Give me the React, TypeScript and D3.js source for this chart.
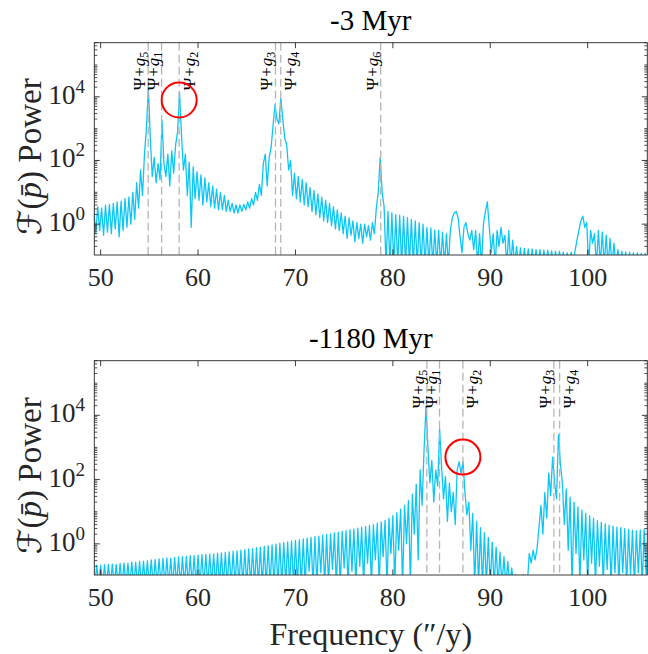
import React from 'react';
import * as d3 from 'd3';

const W = 648;
const H = 654;

// ---- axis settings ----
const xDomain = [49.35, 106.12];
const yLogDomain = [-0.97, 5.7];
const xTicks = [50, 60, 70, 80, 90, 100];
const yTickExps = [0, 2, 4];

// ---- panel titles ----
const topTitle = '-3 Myr';
const bottomTitle = '-1180 Myr';

// ---- spectrum, -3 Myr (log10 power on a uniform frequency grid) ----
const topFreqStart = 49.3;
const topFreqStep = 0.2;
const topLogPower = [
  0.45, -0.3, 0.55, -0.2, 0.5, -0.35, 0.6, -0.25, 0.62, -0.3,
  0.65, -0.15, 0.7, -0.4, 0.72, -0.2, 0.8, -0.1, 0.85, 0.0,
  1.0, 0.15, 1.3, 0.5, 1.7, 0.9, 2.2, 3.0, 4.3, 2.7,
  1.5, 2.1, 1.3, 1.9, 1.4, 3.25, 1.9, 1.5, 2.2, 1.2,
  2.3, 1.6, 2.5, 2.9, 4.15, 2.8, 1.7, 2.2, 0.9, 1.95,
  -0.1, 1.8, 0.8, 1.65, 0.75, 1.55, 0.6, 1.45, 0.7, 1.3,
  0.55, 1.2, 0.5, 1.1, 0.45, 1.0, 0.45, 0.9, 0.4, 0.75,
  0.4, 0.65, 0.35, 0.6, 0.35, 0.6, 0.4, 0.62, 0.45, 0.7,
  0.5, 0.8, 0.6, 1.0, 0.75, 1.25, 0.9, 1.9, 2.2, 1.2,
  2.1, 2.4, 3.1, 3.75, 3.3, 3.15, 3.95, 3.3, 2.7, 2.5,
  1.7, 2.0, 0.9, 1.6, 0.8, 1.5, 0.7, 1.4, 0.6, 1.3,
  0.55, 1.15, 0.4, 1.05, 0.3, 0.95, 0.2, 0.85, 0.1, 0.75,
  0.05, 0.65, -0.05, 0.55, -0.15, 0.45, -0.2, 0.35, -0.3, 0.25,
  -0.45, 0.2, -0.35, 0.1, -0.55, 0.05, -0.45, 0.0, -0.6, 0.0,
  -0.4, -0.05, -0.5, 0.05, -0.3, 0.5, 1.0, 2.1, 1.0, 0.55,
  -1.3, 0.4, -1.3, 0.35, -1.3, 0.3, -1.3, 0.28, -1.3, 0.25,
  -1.3, 0.2, -1.3, 0.15, -1.3, 0.1, -1.3, 0.05, -1.3, 0.0,
  -1.3, -0.1, -1.3, -0.12, -1.3, -0.18, -1.3, -0.2, -1.3, -0.25,
  -1.3, -0.3, -1.3, -0.2, 0.2, 0.35, 0.4, 0.2, -0.4, -0.9,
  -0.1, 0.05, -0.3, -0.5, -0.2, -0.8, -0.2, -1.3, -0.3, -1.3,
  0.0, 0.4, 0.7, -0.1, -0.9, -0.3, -1.3, -0.2, -0.7, -0.1,
  -0.6, -0.35, -1.3, -0.2, -1.3, -0.5, -1.3, -0.7, -1.3, -0.75,
  -1.3, -0.76, -1.3, -0.78, -1.3, -0.78, -1.3, -0.8, -1.3, -0.8,
  -1.3, -0.82, -1.3, -0.82, -1.3, -0.84, -1.3, -0.85, -1.3, -0.85,
  -1.3, -0.88, -1.3, -0.9, -1.3, -0.88, -1.3, -0.85, -0.5, -0.2,
  0.1, 0.25, -0.1, 0.05, -1.3, -0.2, -0.6, -0.3, -1.3, -0.2,
  -1.3, -0.25, -1.3, -0.35, -1.3, -0.45, -1.3, -0.6, -1.3, -0.8,
  -1.3, -0.85, -1.3, -0.87, -1.3, -0.88, -1.3, -0.9, -1.3, -0.9,
  -1.3, -0.92, -1.3, -0.92, -1.3,
];

// ---- spectrum, -1180 Myr ----
const bottomFreqStart = 49.2;
const bottomFreqStep = 0.2;
const bottomLogPower = [
  -0.68, -1.3, -0.66, -1.3, -0.67, -1.3, -0.65, -1.3, -0.64, -1.3,
  -0.63, -1.3, -0.64, -1.3, -0.61, -1.3, -0.6, -1.3, -0.6, -1.3,
  -0.57, -1.3, -0.58, -1.3, -0.55, -1.3, -0.54, -1.3, -0.53, -1.3,
  -0.5, -1.3, -0.49, -1.3, -0.47, -1.3, -0.46, -1.3, -0.44, -1.3,
  -0.45, -1.3, -0.42, -1.3, -0.41, -1.3, -0.4, -1.3, -0.39, -1.3,
  -0.37, -1.3, -0.37, -1.3, -0.35, -1.3, -0.34, -1.3, -0.33, -1.3,
  -0.32, -1.3, -0.31, -1.3, -0.3, -1.3, -0.28, -1.3, -0.27, -1.3,
  -0.25, -1.3, -0.23, -1.3, -0.22, -1.3, -0.2, -1.3, -0.18, -1.3,
  -0.16, -1.3, -0.15, -1.3, -0.12, -1.3, -0.1, -1.3, -0.08, -1.3,
  -0.06, -1.3, -0.03, -1.3, -0.01, -1.3, 0.02, -1.3, 0.04, -1.3,
  0.06, -1.3, 0.09, -1.3, 0.11, -1.3, 0.13, -1.3, 0.15, -1.3,
  0.18, -0.85, 0.2, -1.3, 0.22, -1.3, 0.24, -0.9, 0.27, -1.3,
  0.29, -1.3, 0.31, -0.8, 0.34, -1.3, 0.36, -1.3, 0.39, -0.75,
  0.41, -1.3, 0.44, -0.85, 0.46, -1.3, 0.49, -0.7, 0.51, -1.3,
  0.54, -0.6, 0.57, -1.3, 0.6, -0.5, 0.64, -1.3, 0.68, -0.4,
  0.73, -1.3, 0.8, -0.3, 0.88, -1.3, 0.97, -0.2, 1.08, -1.3,
  1.2, 0.0, 1.35, -1.3, 1.55, 0.3, 1.85, -0.5, 2.3, 1.2,
  2.9, 4.28,
  3.0, 1.9, 2.6, 1.3, 2.3, 1.8, 3.57, 2.4, 1.4, 2.1,
  0.7, 1.9, 1.0, 1.6, 0.6, 2.3, 2.56, 2.2, 2.56, 1.6,
  0.9, 1.3, -0.2, 0.95, -1.3, 0.7, -1.3, 0.5, -1.3, 0.35,
  -1.3, 0.2, -1.3, 0.05, -1.3, -0.1, -1.3, -0.25, -1.3, -0.4,
  -1.3, -0.55, -1.3, -0.75, -1.3, -0.95, -1.3, -1.3, -1.3, -0.95,
  -1.3, -1.3, -0.3, -0.6, -0.2, -0.5, -0.15, 0.5, 1.2, 0.3,
  1.6, 0.8, 2.2, 1.5, 2.7, 1.9, 1.4, 3.4, 2.5, 1.9,
  0.6, 1.7, -0.2, 1.45, -1.3, 1.3, -0.3, 1.15, -1.3, 1.05,
  -0.5, 0.95, -1.3, 0.87, -0.6, 0.8, -1.3, 0.72, -0.7, 0.67,
  -1.3, 0.62, -0.8, 0.58, -1.3, 0.55, -0.9, 0.52, -1.3, 0.5,
  -0.9, 0.47, -1.3, 0.45, -0.95, 0.42, -1.3, 0.4, -0.9, 0.43,
  -1.3, 0.45, -1.0, 0.48,
];

// ---- frequency markers (Psi + g_i) ----
const topLineNames = ['5', '1', '2', '3', '4', '6'];
const topLineFreqs = [54.88, 56.26, 58.06, 67.95, 68.49, 78.75];
const topLineSides = ['left', 'left', 'right', 'left', 'right', 'left'];
const bottomLineNames = ['5', '1', '2', '3', '4'];
const bottomLineFreqs = [83.49, 84.79, 87.19, 96.53, 97.12];
const bottomLineSides = ['left', 'left', 'right', 'left', 'right'];

// ---- highlighted peaks (freq, log10 power) ----
const topCircle = [58.06, 3.9];
const bottomCircle = [87.19, 2.7];

const AX_L = 94.3;
const AX_R = 647.3;
const AXIS_COLOR = '#262626';
const LINE_COLOR = '#0cc6f6';
const FONT = '"Liberation Serif", "Times New Roman", serif';

type PanelProps = {
  top: number;
  bottom: number;
  title: string;
  titleY: number;
  freqStart: number;
  freqStep: number;
  logPower: number[];
  lineFreqs: number[];
  lineNames: string[];
  lineSides: string[];
  circle: number[];
  clipId: string;
};

function Panel(p: PanelProps) {
  const x = d3.scaleLinear().domain(xDomain).range([AX_L, AX_R]);
  const y = d3
    .scaleLog()
    .domain([Math.pow(10, yLogDomain[0]), Math.pow(10, yLogDomain[1])])
    .range([p.bottom, p.top]);
  const line = d3
    .line<number>()
    .x((_, i) => x(p.freqStart + i * p.freqStep))
    .y((v) => y(Math.pow(10, v)));
  const path = line(p.logPower) || '';

  const minor: number[] = [];
  for (let k = -1; k <= 5; k++) {
    for (let m = 1; m <= 9; m++) {
      const v = m * Math.pow(10, k);
      const isMajor = m === 1 && yTickExps.includes(k);
      if (!isMajor && v >= Math.pow(10, yLogDomain[0]) && v <= Math.pow(10, yLogDomain[1])) minor.push(v);
    }
  }
  const mid = (p.top + p.bottom) / 2;

  return (
    <g>
      <defs>
        <clipPath id={p.clipId}>
          <rect x={AX_L} y={p.top} width={AX_R - AX_L} height={p.bottom - p.top} />
        </clipPath>
      </defs>
      {/* title */}
      <text x={(AX_L + AX_R) / 2} y={p.titleY} textAnchor="middle" fontSize={29} fontFamily={FONT} fill="#000">
        {p.title}
      </text>
      {/* spectrum */}
      <g clipPath={`url(#${p.clipId})`}>
        <path d={path} fill="none" stroke={LINE_COLOR} strokeWidth={1.3} strokeLinejoin="round" />
        {p.lineFreqs.map((f, i) => (
          <line
            key={'dl' + i}
            x1={x(f)}
            x2={x(f)}
            y1={p.top}
            y2={p.bottom}
            stroke="#b5b5b5"
            strokeWidth={1.3}
            strokeDasharray="8,4"
          />
        ))}
      </g>
      {/* marker labels */}
      {p.lineFreqs.map((f, i) => {
        const bx = p.lineSides[i] === 'left' ? x(f) - 3 : x(f) + 15.5;
        return (
          <text
            key={'lb' + i}
            transform={`translate(${bx},${p.top + 9}) rotate(-90)`}
            textAnchor="end"
            fontSize={17}
            fontFamily={FONT}
            fill="#000"
          >
            <tspan>Ψ</tspan>
            <tspan dx={1}>+</tspan>
            <tspan dx={1} fontStyle="italic">g</tspan>
            <tspan fontSize={12} dy={3}>{p.lineNames[i]}</tspan>
          </text>
        );
      })}
      {/* highlight circle */}
      <circle
        cx={x(p.circle[0])}
        cy={y(Math.pow(10, p.circle[1]))}
        r={17.5}
        fill="none"
        stroke="#ff0000"
        strokeWidth={2}
      />
      {/* axes box */}
      <rect
        x={AX_L}
        y={p.top}
        width={AX_R - AX_L}
        height={p.bottom - p.top}
        fill="none"
        stroke={AXIS_COLOR}
        strokeWidth={0.9}
      />
      {/* x ticks */}
      {xTicks.map((t) => (
        <g key={'xt' + t}>
          <line x1={x(t)} x2={x(t)} y1={p.bottom} y2={p.bottom - 5.5} stroke={AXIS_COLOR} strokeWidth={0.9} />
          <line x1={x(t)} x2={x(t)} y1={p.top} y2={p.top + 5.5} stroke={AXIS_COLOR} strokeWidth={0.9} />
          <text x={x(t)} y={p.bottom + 31} textAnchor="middle" fontSize={26} fontFamily={FONT} fill={AXIS_COLOR}>
            {t}
          </text>
        </g>
      ))}
      {/* y ticks */}
      {minor.map((v, i) => (
        <g key={'ym' + i}>
          <line x1={AX_L} x2={AX_L + 3} y1={y(v)} y2={y(v)} stroke={AXIS_COLOR} strokeWidth={0.8} />
          <line x1={AX_R} x2={AX_R - 3} y1={y(v)} y2={y(v)} stroke={AXIS_COLOR} strokeWidth={0.8} />
        </g>
      ))}
      {yTickExps.map((e) => {
        const yy = y(Math.pow(10, e));
        return (
          <g key={'yt' + e}>
            <line x1={AX_L} x2={AX_L + 5.5} y1={yy} y2={yy} stroke={AXIS_COLOR} strokeWidth={0.9} />
            <line x1={AX_R} x2={AX_R - 5.5} y1={yy} y2={yy} stroke={AXIS_COLOR} strokeWidth={0.9} />
            <text x={85} y={yy + 7} textAnchor="end" fontSize={27} fontFamily={FONT} fill={AXIS_COLOR}>
              10
              <tspan fontSize={19} dy={-11}>
                {e}
              </tspan>
            </text>
          </g>
        );
      })}
      {/* y label */}
      <text
        transform={`translate(41,${mid + 8}) rotate(-90)`}
        textAnchor="middle"
        fontSize={33}
        fontFamily={FONT}
        fill={AXIS_COLOR}
      >
        <tspan fontFamily='"DejaVu Serif", "DejaVu Sans", serif' fontStyle="italic">ℱ</tspan>
        <tspan>(</tspan>
        <tspan fontStyle="italic">{'p\u0304'}</tspan>
        <tspan>) Power</tspan>
      </text>
    </g>
  );
}

export default function App() {
  return (
    <svg
      width={W}
      height={H}
      viewBox={`0 0 ${W} ${H}`}
      style={{ position: 'absolute', left: 0, top: 0, background: '#fff' }}
    >
      <rect x={0} y={0} width={W} height={H} fill="#fff" />
      <Panel
        top={42.7}
        bottom={255}
        title={topTitle}
        titleY={29.5}
        freqStart={topFreqStart}
        freqStep={topFreqStep}
        logPower={topLogPower}
        lineFreqs={topLineFreqs}
        lineNames={topLineNames}
        lineSides={topLineSides}
        circle={topCircle}
        clipId="clipTop"
      />
      <Panel
        top={360.7}
        bottom={575}
        title={bottomTitle}
        titleY={348}
        freqStart={bottomFreqStart}
        freqStep={bottomFreqStep}
        logPower={bottomLogPower}
        lineFreqs={bottomLineFreqs}
        lineNames={bottomLineNames}
        lineSides={bottomLineSides}
        circle={bottomCircle}
        clipId="clipBottom"
      />
      <text x={(AX_L + AX_R) / 2} y={645} textAnchor="middle" fontSize={32} fontFamily={FONT} fill={AXIS_COLOR}>
        Frequency (″/y)
      </text>
    </svg>
  );
}
